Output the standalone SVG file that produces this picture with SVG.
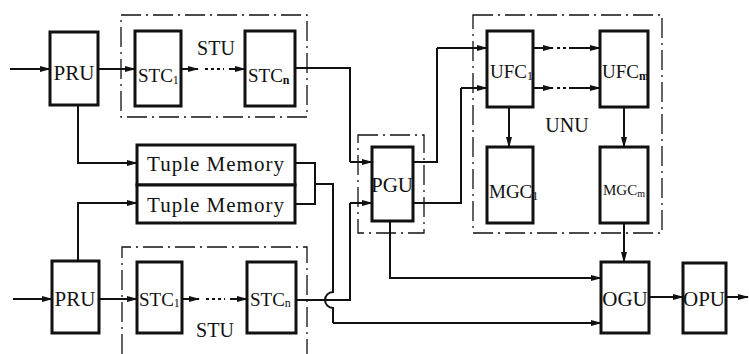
<svg xmlns="http://www.w3.org/2000/svg" width="749" height="354" viewBox="0 0 749 354">
<defs>
<marker id="ah" markerWidth="11" markerHeight="8" refX="10" refY="4" orient="auto" markerUnits="userSpaceOnUse">
<path d="M0,1 L11,4 L0,7 Z" fill="#111"/>
</marker>
<style>
.box{fill:#fff;stroke:#111;stroke-width:3}
.grp{fill:none;stroke:#111;stroke-width:1.3;stroke-dasharray:20 5 2 5}
.ln{fill:none;stroke:#111;stroke-width:2}
.ar{fill:none;stroke:#111;stroke-width:2;marker-end:url(#ah)}
.dots{fill:none;stroke:#111;stroke-width:2;stroke-dasharray:3 3}
text{font-family:"Liberation Serif","DejaVu Serif",serif;fill:#111}
.t{font-size:21px;text-anchor:middle}
.s{font-size:19px}
.sub{font-size:12px}
.lbl{font-size:20px;text-anchor:middle}
</style>
</defs>
<rect width="749" height="354" fill="#fff"/>

<g id="groups">
<path class="grp" d="M121,15 H307 V117 H121 Z"/>
<path class="grp" d="M122,354 V247 H307 V354"/>
<path class="grp" d="M358,135 H424 V233 H358 Z"/>
<path class="grp" d="M473,15 H662 V233 H473 Z"/>
<text class="lbl" x="216" y="55">STU</text>
<text class="lbl" x="215" y="337">STU</text>
<text class="lbl" x="567" y="132">UNU</text>
</g>

<g id="connectors">
<path class="ar" d="M10,69 H50"/>
<path class="ar" d="M98,69 H135"/>
<path class="ar" d="M181,69 H198"/>
<path class="dots" d="M205,69 H224"/>
<path class="ar" d="M229,69 H245"/>
<path class="ln" d="M295,68 H350 V162"/>
<path class="ar" d="M350,162 H372"/>
<path class="ar" d="M78,105 V163 H137"/>
<path class="ar" d="M13,299 H52"/>
<path class="ar" d="M99,299 H137"/>
<path class="ar" d="M182,299 H199"/>
<path class="dots" d="M206,299 H225"/>
<path class="ar" d="M230,299 H247"/>
<path class="ln" d="M296,300 H350 V203"/>
<path class="ar" d="M350,203 H372"/>
<path class="ar" d="M78,261 V203 H137"/>
<path class="ln" d="M295,163 H315 V204 H295"/>
<path class="ln" d="M315,184 H333 V292 A8,8 0 0,0 333,308 V323"/>
<path class="ar" d="M333,323 H601"/>
<path class="ln" d="M413,162 H437 V48"/>
<path class="ar" d="M437,48 H487"/>
<path class="ln" d="M413,203 H461 V88"/>
<path class="ar" d="M461,88 H487"/>
<path class="ar" d="M390,221 V278 H601"/>
<path class="ar" d="M533,48 H553"/>
<path class="dots" d="M557,48 H572"/>
<path class="ar" d="M572,48 H600"/>
<path class="ar" d="M533,88 H553"/>
<path class="dots" d="M557,88 H572"/>
<path class="ar" d="M572,88 H600"/>
<path class="ar" d="M509,107 V147"/>
<path class="ar" d="M624,107 V147"/>
<path class="ar" d="M624,223 V262"/>
<path class="ar" d="M649,297 H683"/>
<path class="ar" d="M726,297 H748"/>
</g>

<g id="pru1"><rect class="box" x="50" y="32" width="48" height="73"/><text class="t" x="74" y="80">PRU</text></g>
<g id="stc1a"><rect class="box" x="135" y="31" width="46" height="75"/><text class="s" x="138" y="82">STC<tspan class="sub" dy="2">1</tspan></text></g>
<g id="stcna"><rect class="box" x="245" y="31" width="50" height="75"/><text class="s" x="248" y="82">STC<tspan class="sub" dy="2" font-weight="bold">n</tspan></text></g>
<g id="tm1"><rect class="box" x="137" y="145" width="158" height="40"/><text class="t" x="216" y="171" letter-spacing="1">Tuple Memory</text></g>
<g id="tm2"><rect class="box" x="137" y="185" width="158" height="38"/><text class="t" x="216" y="212" letter-spacing="1">Tuple Memory</text></g>
<g id="pru2"><rect class="box" x="52" y="261" width="47" height="72"/><text class="t" x="75" y="306">PRU</text></g>
<g id="stc1b"><rect class="box" x="137" y="262" width="45" height="71"/><text class="s" x="139" y="306">STC<tspan class="sub" dy="1">1</tspan></text></g>
<g id="stcnb"><rect class="box" x="247" y="262" width="49" height="71"/><text class="s" x="250" y="306">STC<tspan class="sub" dy="1">n</tspan></text></g>
<g id="pgu"><rect class="box" x="372" y="147" width="41" height="74"/><text class="t" x="392" y="192" font-size="19">PGU</text></g>
<g id="ufc1"><rect class="box" x="487" y="31" width="46" height="76"/><text class="s" x="490" y="78" font-size="18">UFC<tspan class="sub" dy="2">1</tspan></text></g>
<g id="ufcm"><rect class="box" x="600" y="31" width="48" height="76"/><text class="s" x="602" y="78" font-size="18">UFC<tspan class="sub" dy="2" font-weight="bold">m</tspan></text></g>
<g id="mgc1"><rect class="box" x="487" y="147" width="46" height="76"/><text class="s" x="489" y="198" font-size="17">MGC<tspan class="sub" dy="2">1</tspan></text></g>
<g id="mgcm"><rect class="box" x="600" y="147" width="48" height="76"/><text x="603" y="195" font-size="15">MGC<tspan font-size="10" dy="2">m</tspan></text></g>
<g id="ogu"><rect class="box" x="601" y="262" width="48" height="71"/><text class="t" x="625" y="306" font-size="19">OGU</text></g>
<g id="opu"><rect class="box" x="683" y="263" width="43" height="70"/><text class="t" x="704" y="306" font-size="19">OPU</text></g>
</svg>
